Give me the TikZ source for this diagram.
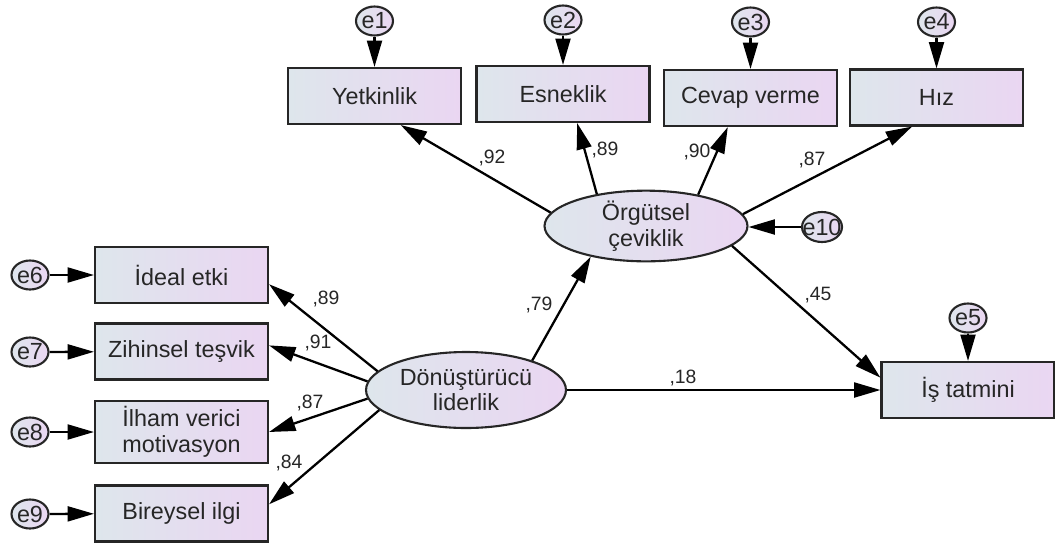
\documentclass[tikz,border=0pt]{standalone}
\usepackage{fontspec}
\setmainfont{Liberation Sans}
\usetikzlibrary{arrows.meta,shapes.geometric}

\definecolor{boxl}{RGB}{222,230,236}
\definecolor{boxr}{RGB}{234,214,242}

\tikzset{
  obs/.style={draw=black!85, line width=1.2pt, left color=boxl, right color=boxr,
    minimum width=3.46cm, minimum height=1.12cm, align=center,
    font=\fontsize{13.3}{14.5}\selectfont, text=black!85},
  lat/.style={ellipse, draw=black!85, line width=1.2pt, left color=boxl, right color=boxr,
    align=center, inner sep=0pt, font=\fontsize{13.3}{14.5}\selectfont, text=black!85},
  err/.style={ellipse, draw=black!85, line width=1.2pt, left color=boxl, right color=boxr,
    inner sep=0pt, minimum width=0.74cm, minimum height=0.58cm,
    font=\fontsize{13.3}{14.5}\selectfont, text=black!85},
  path/.style={line width=1.3pt, -{Triangle[length=15pt,width=8.5pt]}},
  coef/.style={font=\fontsize{11}{12}\selectfont, inner sep=1pt, text=black!85}
}

\begin{document}
\begin{tikzpicture}[x=0.02cm, y=-0.02cm]
    \useasboundingbox (0,0) rectangle (1055,545);

    % indicators of the mediator
    \node[obs] (yetkinlik) at (374.5,96) {Yetkinlik};
    \node[obs] (esneklik) at (563,94) {Esneklik};
    \node[obs] (cevap) at (750.5,98) {Cevap verme};
    \node[obs] (hiz) at (936.5,97.5) {Hız};
    \node[err] (e1) at (374.5,21) {e1};
    \node[err] (e2) at (563,20) {e2};
    \node[err] (e3) at (750.5,22) {e3};
    \node[err] (e4) at (936.5,22) {e4};

    % indicators of the predictor
    \node[obs] (ideal) at (181.5,275) {İdeal etki};
    \node[obs] (zihinsel) at (181.5,351.5) {Zihinsel teşvik};
    \node[obs] (ilham) at (181.5,432) {İlham verici\\motivasyon};
    \node[obs] (bireysel) at (181.5,513.5) {Bireysel ilgi};
    \node[err] (e6) at (30,275) {e6};
    \node[err] (e7) at (30,352) {e7};
    \node[err] (e8) at (30,432) {e8};
    \node[err] (e9) at (30,514) {e9};

    % latent variables and outcome
    \node[lat, minimum width=4.06cm, minimum height=1.4cm] (orgutsel) at (646,226) {Örgütsel\\çeviklik};
    \node[err, minimum width=0.8cm, minimum height=0.6cm] (e10) at (822,227) {\makebox[0pt]{e10}};
    \node[lat, minimum width=4cm, minimum height=1.52cm] (donusturucu) at (466,390) {Dönüştürücü\\liderlik};
    \node[obs] (tatmin) at (968,390) {İş tatmini};
    \node[err] (e5) at (968,318) {e5};

    % error terms
    \draw[path] (e1) -- (yetkinlik);
    \draw[path] (e2) -- (esneklik);
    \draw[path] (e3) -- (cevap);
    \draw[path] (e4) -- (hiz);
    \draw[path] (e5) -- (tatmin);
    \draw[path] (e6) -- (ideal);
    \draw[path] (e7) -- (zihinsel);
    \draw[path] (e8) -- (ilham);
    \draw[path] (e9) -- (bireysel);
    \draw[path] (e10.west) -- (e10.west -| orgutsel.east);

    % loadings and paths
    \draw[path] (orgutsel.172) -- (yetkinlik.-48);
    \draw[path] (orgutsel.147) -- (esneklik.-64);
    \draw[path] (orgutsel.31) -- (cevap.-128);
    \draw[path] (orgutsel.7) -- (hiz.-130);
    \draw[path] (orgutsel.-13) -- (tatmin.172);
    \draw[path] (donusturucu) -- (tatmin);
    \draw[path] (donusturucu.24) -- (orgutsel.-151);
    \draw[path] (donusturucu.168) -- (ideal.-6);
    \draw[path] (donusturucu.175) -- (zihinsel.4);
    \draw[path] (donusturucu.185) -- (ilham.east);
    \draw[path] (donusturucu.193) -- (bireysel.6);

    \node[coef] (c92) at (492,158) {,92};
    \node[coef] (c89a) at (605,150) {,89};
    \node[coef] (c90) at (697,152) {,90};
    \node[coef] (c87a) at (812,160) {,87};
    \node[coef] (c79) at (539,305) {,79};
    \node[coef] (c45) at (818,295) {,45};
    \node[coef] (c18) at (683,378) {,18};
    \node[coef] (c89b) at (326,299) {,89};
    \node[coef] (c91) at (318,343) {,91};
    \node[coef] (c87b) at (310,403) {,87};
    \node[coef] (c84) at (289,463) {,84};
\end{tikzpicture}
\end{document}
